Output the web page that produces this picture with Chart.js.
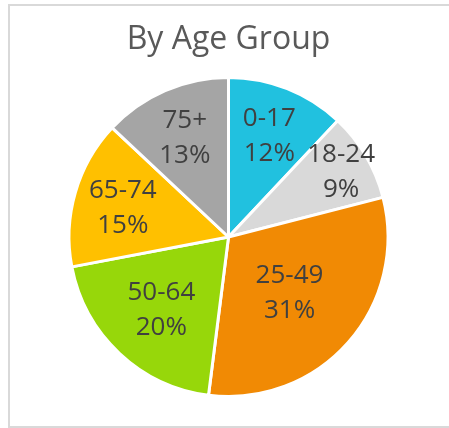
<!DOCTYPE html>
<html>
<head>
<meta charset="utf-8">
<script src="https://cdn.jsdelivr.net/npm/chart.js@4"></script>
<style>
  html, body { margin: 0; padding: 0; background: #ffffff; }
  #wrap { position: relative; width: 449px; height: 428px; }
</style>
</head>
<body>
<div id="wrap"><canvas id="c" width="449" height="428"></canvas></div>
<script>
const titleText = 'By Age Group';
const categories = ['0-17', '18-24', '25-49', '50-64', '65-74', '75+'];
const shares = [12, 9, 31, 20, 15, 13];
const sliceColors = ['#21C1DF', '#D9D9D9', '#F18A04', '#97D70A', '#FFC000', '#A5A5A5'];

const framePlugin = {
  id: 'frame',
  beforeDraw(chart) {
    const ctx = chart.ctx;
    ctx.save();
    ctx.strokeStyle = '#D9D9D9';
    ctx.lineWidth = 2;
    ctx.strokeRect(9, 5, 460, 422);
    ctx.restore();
  }
};

const sliceLabelPlugin = {
  id: 'sliceLabels',
  afterDatasetsDraw(chart, args, opts) {
    const ctx = chart.ctx;
    const meta = chart.getDatasetMeta(0);
    const data = chart.data.datasets[0].data;
    const total = data.reduce((a, b) => a + b, 0);
    ctx.save();
    ctx.fillStyle = opts.color;
    ctx.font = opts.size + 'px ' + opts.family;
    ctx.textAlign = 'center';
    ctx.textBaseline = 'alphabetic';
    meta.data.forEach((arc, i) => {
      const p = arc.getProps(['x', 'y', 'startAngle', 'endAngle', 'outerRadius'], true);
      const mid = (p.startAngle + p.endAngle) / 2;
      const r = p.outerRadius * opts.radial[i];
      const cx = p.x + Math.cos(mid) * r;
      const cy = p.y + Math.sin(mid) * r;
      const half = opts.lineGap / 2;
      const shift = opts.size * 0.357;
      const pct = Math.round(data[i] / total * 100) + '%';
      ctx.fillText(chart.data.labels[i], cx, cy - half + shift);
      ctx.fillText(pct, cx, cy + half + shift);
    });
    ctx.restore();
  }
};

new Chart(document.getElementById('c'), {
  type: 'pie',
  data: {
    labels: categories,
    datasets: [{
      data: shares,
      backgroundColor: sliceColors,
      borderColor: '#FFFFFF',
      borderWidth: 3
    }]
  },
  options: {
    responsive: false,
    animation: false,
    layout: { padding: { left: 67.5, right: 59.5, top: 0, bottom: 30 } },
    plugins: {
      legend: { display: false },
      tooltip: { enabled: false },
      title: {
        display: true,
        text: titleText,
        color: '#595959',
        font: { family: '"Open Sans"', size: 32, weight: 'normal', lineHeight: 1.2 },
        padding: { top: 20.8, bottom: 16.8 }
      },
      sliceLabels: {
        color: '#404040',
        family: '"Open Sans"',
        size: 26,
        lineGap: 35,
        radial: [0.695, 0.82, 0.51, 0.615, 0.69, 0.69]
      }
    }
  },
  plugins: [framePlugin, sliceLabelPlugin]
});
</script>
</body>
</html>
